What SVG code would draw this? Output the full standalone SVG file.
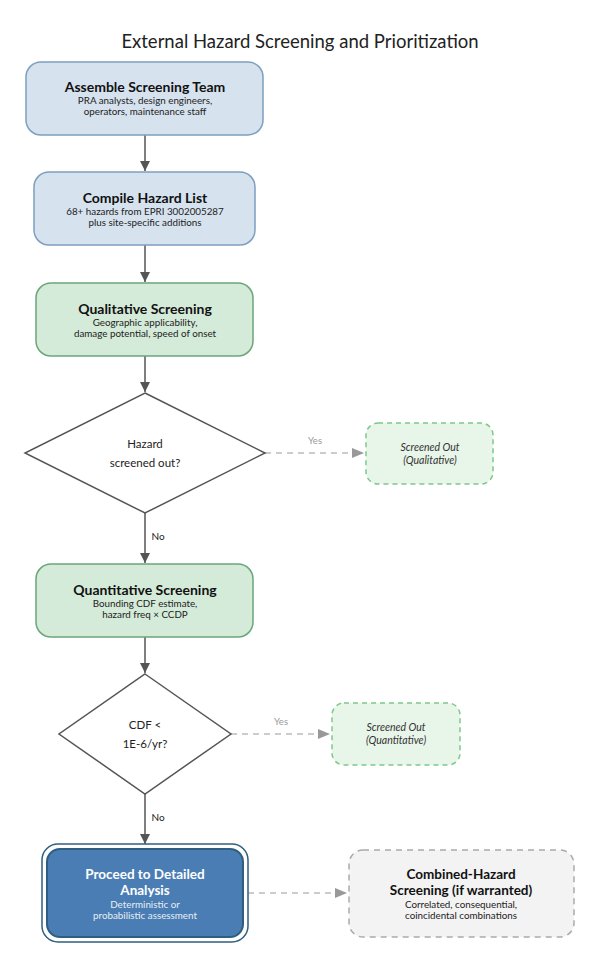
<svg xmlns="http://www.w3.org/2000/svg" width="600" height="968" viewBox="0 0 600 968">
<style>
text{font-family:Lato,"Open Sans","Liberation Sans",sans-serif;text-anchor:middle;fill:#111}
.title{font-size:18.5px;fill:#222}
.h{font-size:14px;font-weight:bold}
.h2{font-size:13.5px;font-weight:bold}
.s{font-size:9.8px;fill:#222}
.blue{fill:#d6e3ef;stroke:#7d9fc0;stroke-width:1.5}
.green{fill:#d5ebd9;stroke:#6aa67a;stroke-width:1.5}
.out{fill:#e8f5e9;stroke:#7dc88a;stroke-width:1.5;stroke-dasharray:5,4}
.dia{fill:#fff;stroke:#555;stroke-width:1.5}
.q{font-size:11.5px;fill:#222}
.it{font-size:10.5px;font-style:italic;fill:#333}
.solid{stroke:#555;stroke-width:1.5;fill:none}
.dash{stroke:#999;stroke-width:1.2;fill:none;stroke-dasharray:6,5}
.lbl{font-size:9.5px;fill:#999}
.lbn{font-size:10px;fill:#222}
</style>
<defs>
<marker id="a" markerWidth="10" markerHeight="10" refX="10" refY="5" orient="auto" markerUnits="userSpaceOnUse"><path d="M0,0L10,5L0,10z" fill="#555"/></marker>
<marker id="g" markerWidth="12" markerHeight="10" refX="12" refY="5" orient="auto" markerUnits="userSpaceOnUse"><path d="M0,0L12,5L0,10z" fill="#999"/></marker>
</defs>
<text class="title" x="300" y="48">External Hazard Screening and Prioritization</text>
<g id="connectors">
<line class="solid" x1="145" y1="135" x2="145" y2="171" marker-end="url(#a)"/>
<line class="solid" x1="145" y1="245" x2="145" y2="282" marker-end="url(#a)"/>
<line class="solid" x1="145" y1="356" x2="145" y2="392" marker-end="url(#a)"/>
<line class="dash" x1="265" y1="453" x2="364" y2="453" marker-end="url(#g)"/>
<text class="lbl" x="315" y="444">Yes</text>
<line class="solid" x1="145" y1="513" x2="145" y2="563" marker-end="url(#a)"/>
<text class="lbn" x="158" y="540">No</text>
<line class="solid" x1="145" y1="637" x2="145" y2="673" marker-end="url(#a)"/>
<line class="dash" x1="231" y1="734" x2="330" y2="734" marker-end="url(#g)"/>
<text class="lbl" x="281" y="725">Yes</text>
<line class="solid" x1="145" y1="794" x2="145" y2="844" marker-end="url(#a)"/>
<text class="lbn" x="158" y="821">No</text>
<line class="dash" x1="248" y1="893" x2="347" y2="893" marker-end="url(#g)"/>
</g>
<g id="assemble">
<rect class="blue" x="26" y="62" width="237" height="73" rx="15"/>
<text class="h" x="145" y="92">Assemble Screening Team</text>
<text class="s" x="145" y="104">PRA analysts, design engineers,</text>
<text class="s" x="145" y="115">operators, maintenance staff</text>
</g>
<g id="compile">
<rect class="blue" x="34" y="172" width="221" height="73" rx="15"/>
<text class="h" x="145" y="203">Compile Hazard List</text>
<text class="s" x="145" y="215">68+ hazards from EPRI 3002005287</text>
<text class="s" x="145" y="226">plus site-specific additions</text>
</g>
<g id="qualitative">
<rect class="green" x="36" y="283" width="217" height="73" rx="15"/>
<text class="h" x="145" y="314">Qualitative Screening</text>
<text class="s" x="145" y="326">Geographic applicability,</text>
<text class="s" x="145" y="337">damage potential, speed of onset</text>
</g>
<g id="decision1">
<polygon class="dia" points="145,393 265,453 145,513 25,453"/>
<text class="q" x="145" y="448">Hazard</text>
<text class="q" x="145" y="467">screened out?</text>
</g>
<g id="out1">
<rect class="out" x="366" y="423" width="127" height="61" rx="12"/>
<text class="it" x="430" y="451">Screened Out</text>
<text class="it" x="430" y="464">(Qualitative)</text>
</g>
<g id="quantitative">
<rect class="green" x="36" y="564" width="217" height="73" rx="15"/>
<text class="h" x="145" y="595">Quantitative Screening</text>
<text class="s" x="145" y="607">Bounding CDF estimate,</text>
<text class="s" x="145" y="618">hazard freq × CCDP</text>
</g>
<g id="decision2">
<polygon class="dia" points="145,674 231,734 145,794 59,734"/>
<text class="q" x="145" y="729">CDF &lt;</text>
<text class="q" x="145" y="748">1E-6/yr?</text>
</g>
<g id="out2">
<rect class="out" x="332" y="703" width="128" height="62" rx="12"/>
<text class="it" x="396" y="731">Screened Out</text>
<text class="it" x="396" y="744">(Quantitative)</text>
</g>
<g id="detailed">
<rect x="42" y="844" width="206" height="98" rx="16" fill="#fff" stroke="#2f5f80" stroke-width="1.5"/>
<rect x="47" y="849" width="196" height="88" rx="13" fill="#4a7db3" stroke="#2f5f80" stroke-width="2"/>
<text class="h2" x="145" y="879" style="fill:#fff">Proceed to Detailed</text>
<text class="h2" x="145" y="895" style="fill:#fff">Analysis</text>
<text class="s" x="145" y="908" style="fill:#e8eef5">Deterministic or</text>
<text class="s" x="145" y="919" style="fill:#e8eef5">probabilistic assessment</text>
</g>
<g id="combined">
<rect x="349" y="850" width="225" height="87" rx="14" fill="#f3f3f3" stroke="#aaa" stroke-width="1.5" stroke-dasharray="6,5"/>
<text class="h2" x="461" y="879">Combined-Hazard</text>
<text class="h2" x="461" y="895">Screening (if warranted)</text>
<text class="s" x="461" y="908">Correlated, consequential,</text>
<text class="s" x="461" y="919">coincidental combinations</text>
</g>
</svg>
